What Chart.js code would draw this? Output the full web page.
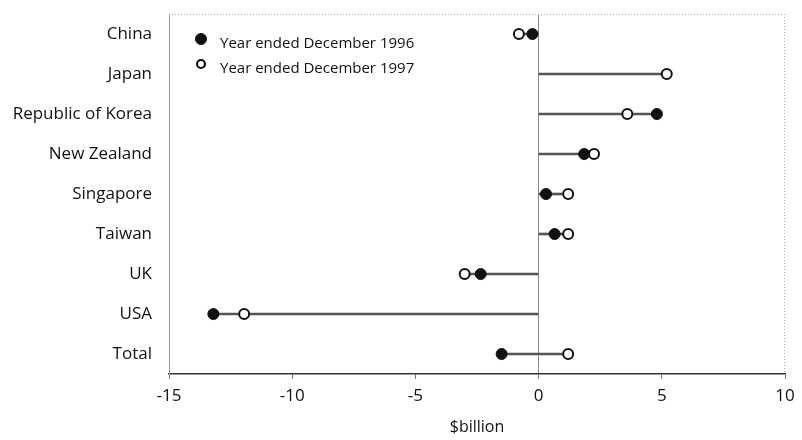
<!DOCTYPE html>
<html>
<head>
<meta charset="utf-8">
<script src="https://cdn.jsdelivr.net/npm/chart.js@4/dist/chart.umd.min.js"></script>
<style>
    html, body { margin: 0; padding: 0; background: #fff; }
    #wrap { width: 802px; height: 440px; }
</style>
</head>
<body>
<div id="wrap"><canvas id="chart"></canvas></div>
<script>
// Values ($billion)
const countries = ['China', 'Japan', 'Republic of Korea', 'New Zealand', 'Singapore', 'Taiwan', 'UK', 'USA', 'Total'];
const year1996 = [-0.25, null, 4.8, 1.85, 0.3, 0.65, -2.35, -13.2, -1.5];
const year1997 = [-0.8, 5.2, 3.6, 2.25, 1.2, 1.2, -3.0, -11.95, 1.2];
const xTicks = [-15, -10, -5, 0, 5, 10];

// connector from zero (or the lower point) to the furthest point
const spans = countries.map((c, i) => {
    const vals = [0, year1996[i], year1997[i]].filter(v => v !== null);
    return [Math.min(...vals), Math.max(...vals)];
});

const FONT = "'Open Sans', 'Liberation Sans', Arial, sans-serif";

// Legend drawn inside the plot, top left
const insideLegend = {
    id: 'insideLegend',
    afterDraw(chart) {
        const ctx = chart.ctx;
        const area = chart.chartArea;
        const items = [chart.data.datasets[1], chart.data.datasets[2]];
        ctx.save();
        ctx.font = '15px ' + FONT;
        ctx.textBaseline = 'middle';
        items.forEach((ds, i) => {
            const x = area.left + 32;
            const y = area.top + 25 + i * 25;
            ctx.beginPath();
            ctx.arc(x, y, i === 0 ? 5.5 : 4, 0, Math.PI * 2);
            ctx.fillStyle = ds.pointBackgroundColor;
            ctx.fill();
            ctx.lineWidth = i === 0 ? 1 : 2.2;
            ctx.strokeStyle = '#111';
            ctx.stroke();
            ctx.fillStyle = '#111';
            ctx.fillText(ds.label, x + 19, y + 5);
        });
        ctx.restore();
    }
};

// dotted frame on top and right
const frame = {
    id: 'frame',
    beforeDatasetsDraw(chart) {
        const ctx = chart.ctx;
        const a = chart.chartArea;
        ctx.save();
        ctx.strokeStyle = '#aaa';
        ctx.lineWidth = 1;
        ctx.setLineDash([1, 2]);
        ctx.beginPath();
        ctx.moveTo(a.left, a.top + 0.5);
        ctx.lineTo(a.right, a.top + 0.5);
        ctx.moveTo(a.right - 0.5, a.top);
        ctx.lineTo(a.right - 0.5, a.bottom);
        ctx.stroke();
        ctx.restore();
    }
};

new Chart(document.getElementById('chart'), {
    type: 'bar',
    data: {
        labels: countries,
        datasets: [{
            type: 'bar',
            label: 'span',
            data: spans,
            backgroundColor: '#555',
            barThickness: 2,
            order: 3
        }, {
            type: 'line',
            label: 'Year ended December 1996',
            data: year1996,
            showLine: false,
            pointRadius: 5.5,
            pointBorderWidth: 1,
            pointBackgroundColor: '#111',
            pointBorderColor: '#111',
            order: 1
        }, {
            type: 'line',
            label: 'Year ended December 1997',
            data: year1997,
            showLine: false,
            pointRadius: 5,
            pointBorderWidth: 2,
            pointBackgroundColor: '#fff',
            pointBorderColor: '#111',
            order: 2
        }]
    },
    options: {
        indexAxis: 'y',
        responsive: true,
        maintainAspectRatio: false,
        animation: false,
        layout: { padding: { top: 14, right: 17, bottom: 3, left: 0 } },
        plugins: {
            legend: { display: false },
            tooltip: { enabled: false }
        },
        scales: {
            x: {
                type: 'linear',
                min: -15,
                max: 10,
                afterBuildTicks: (axis) => { axis.ticks = xTicks.map(v => ({ value: v })); },
                afterFit: (axis) => { axis.height = 63; },
                grid: {
                    color: (c) => c.tick && c.tick.value === 0 ? '#888' : 'transparent',
                    tickColor: '#777',
                    tickLength: 5,
                    lineWidth: 1
                },
                border: { display: true, color: '#333', width: 1.5 },
                ticks: {
                    color: '#111',
                    font: { family: FONT, size: 17 },
                    padding: 7
                },
                title: {
                    display: true,
                    text: '$billion',
                    color: '#111',
                    font: { family: FONT, size: 16 },
                    padding: { top: 0, bottom: 0 }
                }
            },
            y: {
                type: 'category',
                grid: { display: false },
                border: { display: true, color: '#999', width: 1, dash: [1, 2] },
                afterFit: (axis) => {
                    axis.width = 169;
                    axis.paddingTop = 0;
                    axis.paddingBottom = 0;
                },
                ticks: {
                    color: '#111',
                    font: { family: FONT, size: 17 },
                    padding: 9
                }
            }
        }
    },
    plugins: [frame, insideLegend]
});
</script>
</body>
</html>
